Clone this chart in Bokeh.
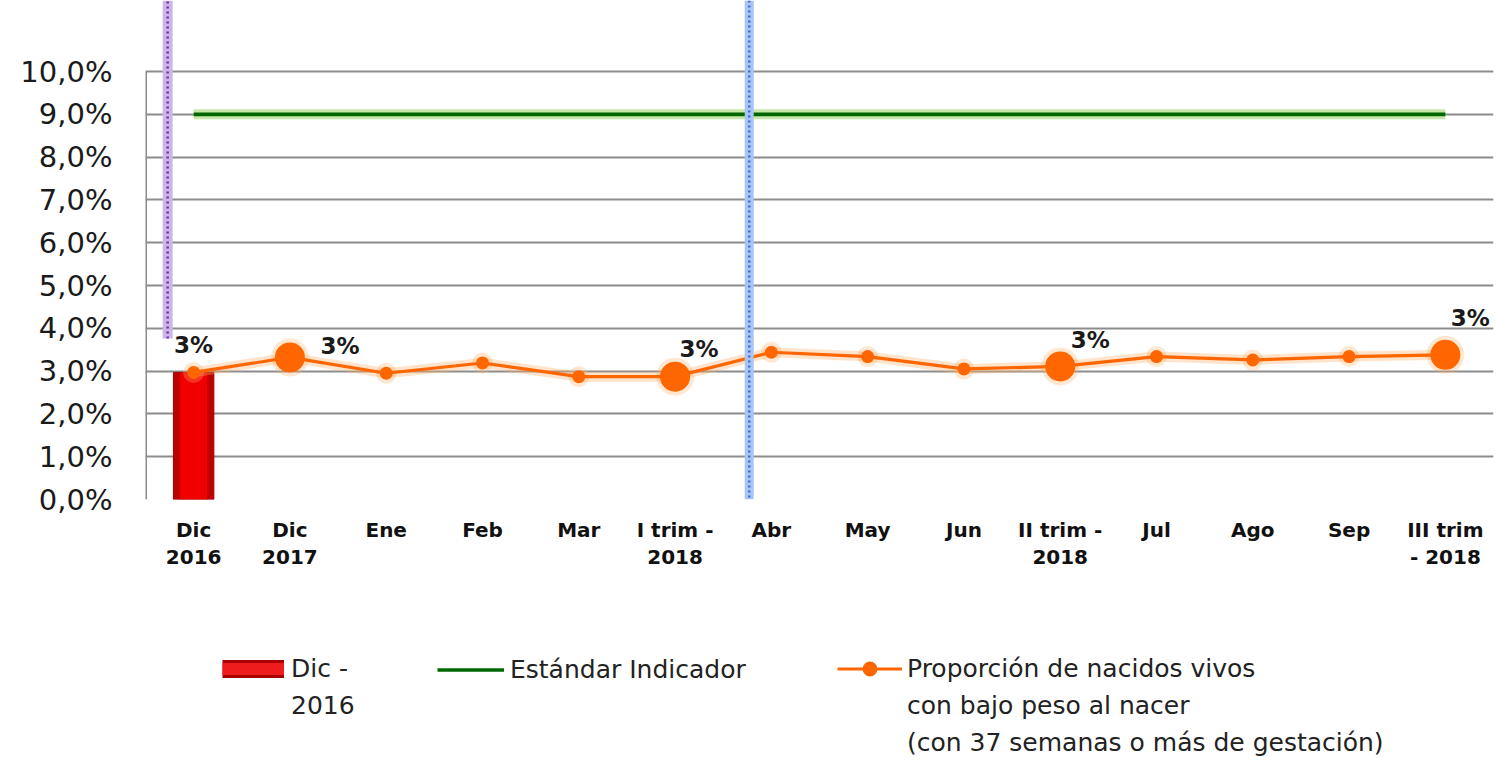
from bokeh.plotting import figure
from bokeh.layouts import column
from bokeh.models import (ColumnDataSource, Range1d, FixedTicker, Legend, LegendItem, Span)
from bokeh.embed import file_html
from bokeh.resources import INLINE

# ---------------- data ----------------
categories = ["Dic\n2016", "Dic\n2017", "Ene", "Feb", "Mar", "I trim -\n2018", "Abr",
              "May", "Jun", "II trim -\n2018", "Jul", "Ago", "Sep", "III trim\n- 2018"]
proporcion = [2.97, 3.32, 2.95, 3.19, 2.87, 2.87, 3.44, 3.34, 3.05, 3.11, 3.34, 3.26, 3.34, 3.38]
estandar = [9.0] * 14
bar_category = "Dic\n2016"
bar_value = 2.97
summary_points = ["Dic\n2017", "I trim -\n2018", "II trim -\n2018", "III trim\n- 2018"]
y_ticks = [0, 1, 2, 3, 4, 5, 6, 7, 8, 9, 10]
y_tick_labels = ["0,0%", "1,0%", "2,0%", "3,0%", "4,0%", "5,0%", "6,0%", "7,0%", "8,0%", "9,0%", "10,0%"]
legend_bar = ["Dic -", "2016"]
legend_std = ["Estándar Indicador"]
legend_prop = ["Proporción de nacidos vivos", "con bajo peso al nacer",
               "(con 37 semanas o más de gestación)"]

# ---------------- styles ----------------
FONT = "DejaVu Sans"
Y_TOP = 11.659
xs = list(range(len(categories)))
sizes = [30 if c in summary_points else 13 for c in categories]
glow_sizes = [s + 8 for s in sizes]
lab_dx = [0, 50, 24, 30, 25]
lab_dy = [-27, -11, -28, -26, -37]
RED_DARK, RED = "#a80000", "#ee1c1c"
GREEN, GREEN_GLOW = "#006600", "#c2e6a0"
ORANGE, ORANGE_GLOW = "#ff6600", "#ffb066"

bar_x = categories.index(bar_category)
lab_x = [bar_x] + [categories.index(c) for c in summary_points]
lab_y = [bar_value] + [proporcion[categories.index(c)] for c in summary_points]
lab_t = [f"{v:.0f}%" for v in lab_y]

TOP_H = 580
p = figure(width=1496, height=TOP_H, x_range=Range1d(-0.5, 13.5), y_range=Range1d(0, Y_TOP),
           output_backend="svg", toolbar_location=None,
           min_border_left=145, min_border_right=3, min_border_top=0, min_border_bottom=TOP_H - 499)
p.outline_line_color = None
p.background_fill_color = "white"
p.border_fill_color = "white"

# axes
p.xaxis.ticker = FixedTicker(ticks=xs)
p.xaxis.major_label_overrides = {i: c for i, c in enumerate(categories)}
p.xaxis.major_label_text_font = FONT
p.xaxis.major_label_text_font_size = "20px"
p.xaxis.major_label_text_font_style = "bold"
p.xaxis.major_label_text_color = "#111111"
p.xaxis.major_label_text_line_height = 1.16
p.xaxis.major_label_standoff = 18
p.xaxis.major_tick_out = 0
p.xaxis.axis_line_color = None
p.xaxis.major_tick_line_color = None
p.xaxis.minor_tick_line_color = None

p.yaxis.ticker = FixedTicker(ticks=y_ticks)
p.yaxis.major_label_overrides = {t: l for t, l in zip(y_ticks, y_tick_labels)}
p.yaxis.major_label_text_font = FONT
p.yaxis.major_label_text_font_size = "29px"
p.yaxis.major_label_text_color = "#1a1a1a"
p.yaxis.major_label_standoff = 33
p.yaxis.major_tick_out = 0
p.yaxis.axis_line_color = None
p.yaxis.major_tick_line_color = None
p.yaxis.minor_tick_line_color = None

p.xgrid.grid_line_color = None
p.ygrid.grid_line_color = "#8c8c8c"
p.ygrid.grid_line_width = 2

# plot-area left border
p.segment(x0=[-0.5], y0=[y_ticks[0]], x1=[-0.5], y1=[y_ticks[-1]], line_color="#8c8c8c", line_width=3)

# separators (Excel shapes)
purple_x = bar_x - 0.27
p.segment(x0=[purple_x], y0=[3.76], x1=[purple_x], y1=[Y_TOP], line_color="#cdb4ea", line_width=10)
p.segment(x0=[purple_x], y0=[3.76], x1=[purple_x], y1=[Y_TOP], line_color="#7030a0", line_width=2.5,
          line_dash="2 3")
blue_x = categories.index("Abr") - 0.23
p.add_layout(Span(location=blue_x, dimension="height", line_color="#a9c4f5", line_width=9))
p.add_layout(Span(location=blue_x, dimension="height", line_color="#3c6fd0", line_width=2.5,
                  line_dash="2 3"))

# bar
p.vbar(x=[bar_x], top=[bar_value], bottom=0, width=0.42, fill_color="#c00000", line_color="#a00000",
       line_width=1)
p.vbar(x=[bar_x], top=[bar_value], bottom=0, width=0.28, fill_color="#f00000", line_color=None)

# standard line
p.line(xs, estandar, line_color=GREEN_GLOW, line_width=10, line_alpha=0.9)
p.line(xs, estandar, line_color=GREEN, line_width=3.8)

# proportion series
src = ColumnDataSource(dict(x=xs, y=proporcion, s=sizes, gs=glow_sizes))
p.line("x", "y", source=src, line_color=ORANGE_GLOW, line_width=10, line_alpha=0.35)
p.scatter("x", "y", source=src, size="gs", fill_color=ORANGE_GLOW, fill_alpha=0.3, line_color=None)
p.line("x", "y", source=src, line_color=ORANGE, line_width=3.2)
p.scatter("x", "y", source=src, size="s", fill_color=ORANGE, line_color=None)

# data labels
lsrc = ColumnDataSource(dict(x=lab_x, y=lab_y, t=lab_t, dx=lab_dx, dy=lab_dy))
p.text("x", "y", text="t", source=lsrc, x_offset="dx", y_offset="dy", text_align="center",
       text_baseline="middle", text_font_size="23px", text_font_style="bold",
       text_color="#1a1a1a", text_font={"value": FONT})

# ---------------- legend strip (second figure) ----------------
LEG_H = 765 - TOP_H
q = figure(width=1496, height=LEG_H, x_range=Range1d(0, 1), y_range=Range1d(0, 1),
           output_backend="svg", toolbar_location=None, x_axis_location=None, y_axis_location=None,
           min_border_left=145, min_border_right=3, min_border_top=0, min_border_bottom=0)
q.outline_line_color = None
q.xgrid.grid_line_color = None
q.ygrid.grid_line_color = None
q.background_fill_color = "white"
q.border_fill_color = "white"

# legend renderers (same series, outside this strip's visible range)
lb1 = q.line([bar_x, bar_x], [bar_value, bar_value], line_color=RED_DARK, line_width=18)
lb2 = q.line([bar_x, bar_x], [bar_value, bar_value], line_color=RED, line_width=12)
ls = q.line(xs, estandar, line_color=GREEN, line_width=3.5)
lp1 = q.line(xs, proporcion, line_color=ORANGE, line_width=3.2)
lp2 = q.scatter(xs, proporcion, fill_color=ORANGE, line_color=None)
blank = q.line(xs, proporcion, line_alpha=0)


def add_legend(lines, renderers, x, y, gw, standoff):
    items = [LegendItem(label=lines[0], renderers=renderers)]
    items += [LegendItem(label=t, renderers=[blank]) for t in lines[1:]]
    leg = Legend(items=items, location=(x, y), orientation="vertical", glyph_width=gw,
                 glyph_height=37, label_standoff=standoff, label_text_font=FONT,
                 label_text_font_size="25px", label_text_color="#222222",
                 padding=0, margin=0, spacing=0, border_line_color=None,
                 background_fill_alpha=0, label_height=37)
    q.add_layout(leg)


add_legend(legend_bar, [lb1, lb2], 77, 41.5, 62, 7)
add_legend(legend_std, [ls], 292, 77.5, 67, 6)
add_legend(legend_prop, [lp1, lp2], 692, 4.5, 65, 5)

layout = column(p, q, spacing=0)
html = file_html(layout, INLINE)
open("out.html", "w").write(html)
